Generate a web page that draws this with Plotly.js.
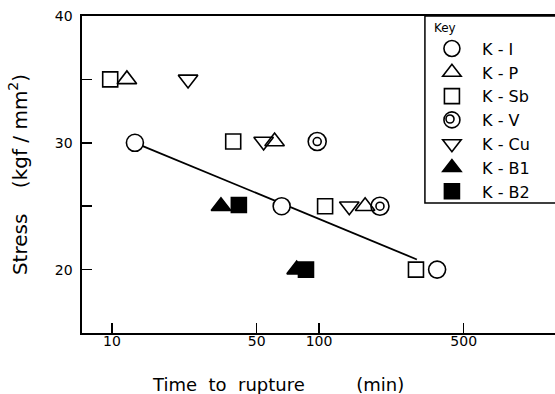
<!DOCTYPE html>
<html>
<head>
<meta charset="utf-8">
<script src="https://cdn.plot.ly/plotly-3.0.1.min.js"></script>
<style>html,body{margin:0;padding:0;background:#fff;}#chart{width:555px;height:394px;}</style>
</head>
<body>
<div id="chart"></div>
<script>
// Data (time to rupture in min, stress in kgf/mm2)
var kI_x  = [12.9, 66, 372];      var kI_y  = [30, 25, 20];
var kP_x  = [11.8, 61, 167];      var kP_y  = [35, 30.1, 25];
var kSb_x = [9.8, 38.5, 107, 294]; var kSb_y = [35, 30.1, 25, 20];
var kV_x  = [98, 197];            var kV_y  = [30.1, 25];
var kCu_x = [23.3, 54, 140];      var kCu_y = [35, 30.1, 25];
var kB1_x = [33.6, 78];           var kB1_y = [25, 20];
var kB2_x = [41, 86.5];           var kB2_y = [25.1, 20];
var fit_x = [12.9, 297];          var fit_y = [30.0, 20.8];
var seriesNames = ['K - I', 'K - P', 'K - Sb', 'K - V', 'K - Cu', 'K - B1', 'K - B2'];
var xTickVals = [10, 50, 100, 500];
var xTickText = ['10', '50', '100', '500'];
var yTickVals = [20, 30, 40];
var yTickText = ['20', '30', '40'];

var FONT = 'DejaVu Sans, sans-serif';
var ML = 1.6;
var NB = '\u00a0';
function sp(n) { return new Array(n + 1).join(NB); }
function mk(sym, size, fill) {
  return {symbol: sym, size: size, color: fill, line: {color: '#000', width: ML}};
}
function lg(n) { return sp(2) + n; }
var traces = [
  {x: fit_x, y: fit_y, mode: 'lines', line: {color: '#000', width: 1.8}, showlegend: false, hoverinfo: 'skip'},
  {x: kI_x, y: kI_y, mode: 'markers', name: lg(seriesNames[0]), marker: mk('circle', 17, '#fff')},
  {x: kP_x, y: kP_y, mode: 'markers', name: lg(seriesNames[1]), marker: mk('triangle-up', 17, 'rgba(0,0,0,0)')},
  {x: kSb_x, y: kSb_y, mode: 'markers', name: lg(seriesNames[2]), marker: mk('square', 15, 'rgba(0,0,0,0)')},
  {x: kV_x, y: kV_y, mode: 'markers', name: lg(seriesNames[3]), marker: mk('circle', 18, 'rgba(0,0,0,0)')},
  {x: kV_x, y: kV_y, mode: 'markers', showlegend: false, marker: mk('circle', 8, 'rgba(0,0,0,0)')},
  {x: kCu_x, y: kCu_y, mode: 'markers', name: lg(seriesNames[4]), marker: mk('triangle-down', 17, 'rgba(0,0,0,0)')},
  {x: kB1_x, y: kB1_y, mode: 'markers', name: lg(seriesNames[5]), marker: mk('triangle-up', 17, '#000')},
  {x: kB2_x, y: kB2_y, mode: 'markers', name: lg(seriesNames[6]), marker: mk('square', 15, '#000')}
];

var layout = {
  width: 555, height: 394,
  margin: {l: 82, r: 0, t: 16, b: 61},
  paper_bgcolor: '#fff', plot_bgcolor: '#fff',
  font: {family: FONT, color: '#000', size: 14},
  showlegend: true,
  xaxis: {
    type: 'log', range: [0.855, 3.140],
    tickmode: 'array', tickvals: xTickVals, ticktext: xTickText,
    ticks: 'inside', ticklen: 10, tickwidth: 1.5, tickcolor: '#000',
    showline: true, linewidth: 1.6, linecolor: '#000', mirror: true,
    showgrid: false, zeroline: false,
    tickfont: {size: 14, family: FONT}, ticklabelstandoff: -5
  },
  yaxis: {
    range: [15, 40],
    tickmode: 'array', tickvals: yTickVals, ticktext: yTickText,
    ticks: 'inside', ticklen: 10, tickwidth: 1.5, tickcolor: '#000',
    minor: {tickmode: 'linear', tick0: 0, dtick: 5, ticks: 'inside', ticklen: 10, tickwidth: 1.5, tickcolor: '#000', showgrid: false},
    showline: true, linewidth: 1.6, linecolor: '#000', mirror: false,
    showgrid: false, zeroline: false,
    tickfont: {size: 14, family: FONT}, ticklabelstandoff: 5,
    title: {text: sp(2) + 'Stress' + sp(4) + '(kgf / mm<sup>2</sup>)', font: {size: 20, family: FONT}, standoff: 22}
  },
  legend: {
    x: 0.7398, xanchor: 'left', y: 1, yanchor: 'top',
    bgcolor: 'rgba(0,0,0,0)', borderwidth: 0,
    font: {size: 16, family: FONT},
    title: {text: 'Key', font: {size: 12, family: FONT}},
    itemsizing: 'trace', tracegroupgap: 0
  },
  annotations: [
    {text: 'Time' + sp(2) + 'to' + sp(2) + 'rupture' + sp(9) + '(min)', xref: 'paper', yref: 'paper',
     x: 0.414, y: -0.161, xanchor: 'center', yanchor: 'middle', showarrow: false,
     font: {size: 18, family: FONT}}
  ],
  shapes: [
    {type: 'rect', xref: 'paper', yref: 'paper', x0: 0.725, x1: 1.1, y0: 0.41, y1: 1,
     line: {color: '#000', width: 1.5}, fillcolor: 'rgba(0,0,0,0)'},
    // inner ring of the K-V key symbol
    {type: 'circle', xref: 'paper', yref: 'paper', x0: 0.7696, x1: 0.7865, y0: 0.6625, y1: 0.6877,
     line: {color: '#000', width: 1.6}, fillcolor: 'rgba(0,0,0,0)'}
  ]
};

Plotly.newPlot('chart', traces, layout, {displayModeBar: false, staticPlot: true});
</script>
</body>
</html>
